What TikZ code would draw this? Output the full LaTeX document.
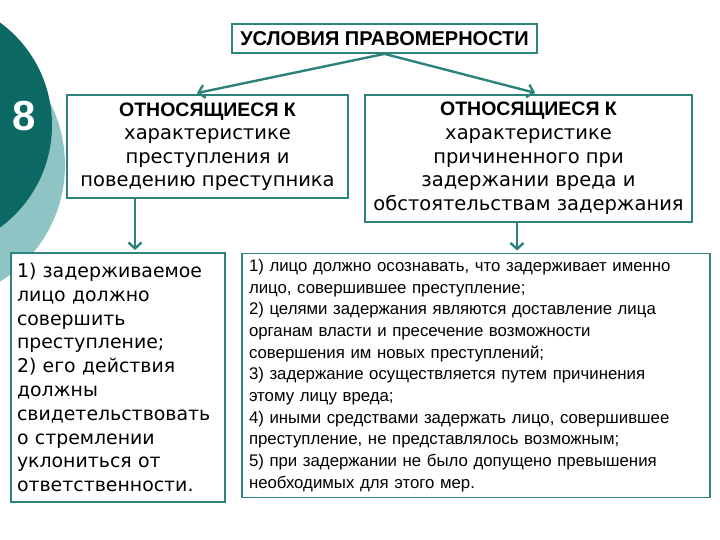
\documentclass[tikz,border=0pt]{standalone}
\usepackage{fontspec}
\setmainfont{Liberation Sans}
\newfontfamily\verd{DejaVu Sans}
\definecolor{tealdark}{RGB}{12, 104, 99}
\definecolor{teallight}{RGB}{142, 196, 195}
\definecolor{tealline}{RGB}{45, 130, 124}
\usetikzlibrary{arrows.meta, positioning}

\begin{document}
\begin{tikzpicture}[x=1pt, y=-1pt,
  cbox/.style={draw=tealline, line width=1.8pt, fill=white, align=center, inner sep=0pt},
  arr/.style={draw=tealline, line width=2.4pt, -{Straight Barb[length=6pt, width=13pt]}}
]
  \useasboundingbox (0,0) rectangle (720,540);
  % circles on the left
  \fill[teallight] (-72,165) circle (137);
  \fill[tealdark] (-75,125) circle (127);
  \node[text=white, font=\bfseries\fontsize{42}{42}\selectfont] (num) at (24,116) {8};

  \node[cbox, minimum width=305, minimum height=29, font=\bfseries\fontsize{20}{22}\selectfont]
    (title) at (384.5,38.5) {УСЛОВИЯ ПРАВОМЕРНОСТИ};
  \node[cbox, minimum width=281, minimum height=103, font={\verd\fontsize{19.5}{23.5}\selectfont}]
    (leftmid) at (207.5,146.5) {{\fontspec{Liberation Sans}\bfseries ОТНОСЯЩИЕСЯ К}\\ характеристике\\ преступления и\\ поведению преступника};
  \node[cbox, minimum width=327, minimum height=127, font={\verd\fontsize{19.5}{23.7}\selectfont}]
    (rightmid) at (528.5,158.5) {{\fontspec{Liberation Sans}\bfseries ОТНОСЯЩИЕСЯ К}\\ характеристике\\ причиненного при\\ задержании вреда и\\ обстоятельствам задержания};

  \node[cbox, minimum width=214, minimum height=249, text width=202, align=left, font={\verd\fontsize{18.9}{23.8}\selectfont}]
    (leftbot) at (118,377.5) {1) задерживаемое\\ лицо должно\\ совершить\\ преступление;\\ 2) его действия\\ должны\\ свидетельствовать\\ о стремлении\\ уклониться от\\ ответственности.};
  \node[cbox, minimum width=468, minimum height=244, text width=454, align=left, font=\fontsize{16.8}{21.7}\selectfont]
    (rightbot) at (476,375.5) {1) лицо должно осознавать, что задерживает именно\\ лицо, совершившее преступление;\\ 2) целями задержания являются доставление лица\\ органам власти и пресечение возможности\\ совершения им новых преступлений;\\ 3) задержание осуществляется путем причинения\\ этому лицу вреда;\\ 4) иными средствами задержать лицо, совершившее\\ преступление, не представлялось возможным;\\ 5) при задержании не было допущено превышения\\ необходимых для этого мер.};

  \draw[arr, shorten >=5pt] (title.south) -- ([xshift=-15.5pt]leftmid.north);
  \draw[arr, shorten >=5pt] (title.south) -- ([xshift=11.5pt]rightmid.north);
  \draw[arr, shorten >=2pt] ([xshift=-72.5pt]leftmid.south) -- ([xshift=-72.5pt]leftmid.south |- leftbot.north);
  \draw[arr, shorten >=2pt] ([xshift=-11.5pt]rightmid.south) -- ([xshift=-11.5pt]rightmid.south |- rightbot.north);
\end{tikzpicture}
\end{document}
